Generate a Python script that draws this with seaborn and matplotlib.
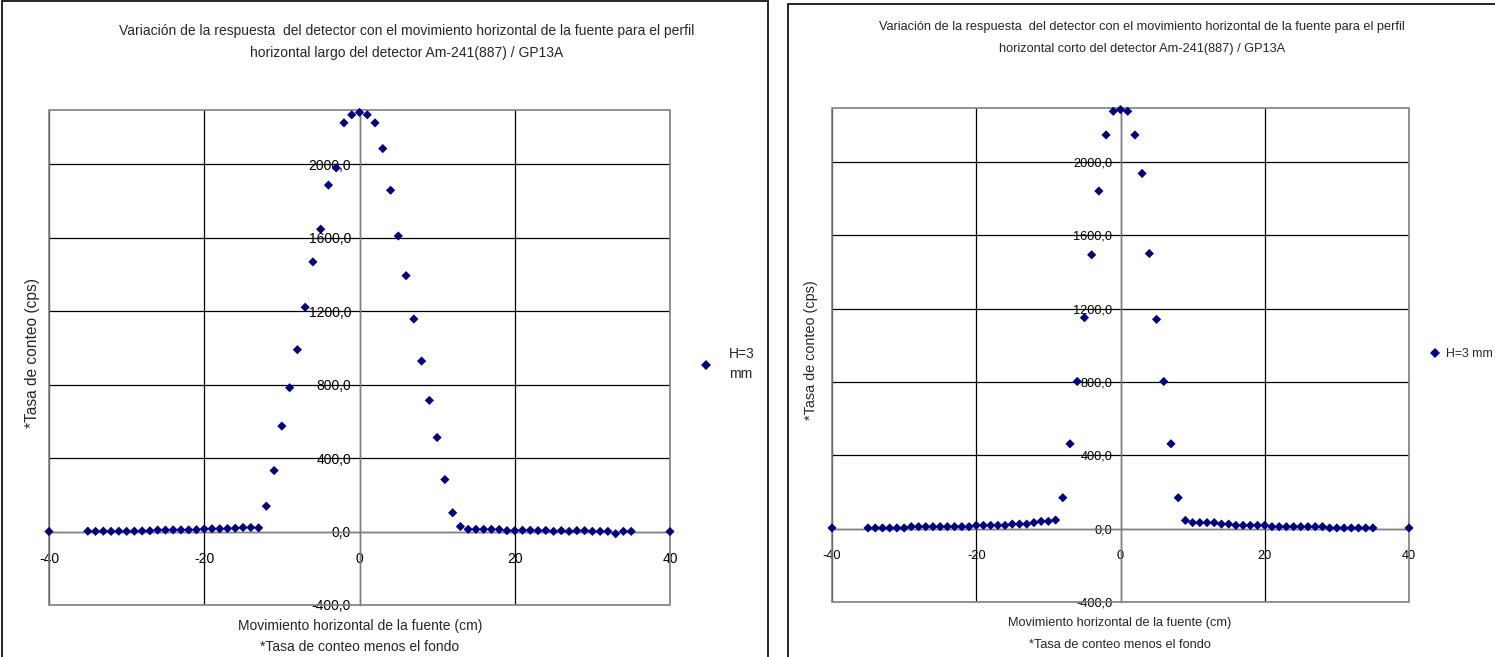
import matplotlib
matplotlib.use("Agg")
import matplotlib.pyplot as plt
import seaborn as sns
import pandas as pd
from matplotlib.patches import Rectangle

# ---------------- data ----------------
x_left = [-40, -35, -34, -33, -32, -31, -30, -29, -28, -27, -26, -25, -24, -23, -22, -21,
          -20, -19, -18, -17, -16, -15, -14, -13, -12, -11, -10, -9, -8, -7, -6, -5, -4,
          -3, -2, -1, 0, 1, 2, 3, 4, 5, 6, 7, 8, 9, 10, 11, 12, 13, 14, 15, 16, 17, 18,
          19, 20, 21, 22, 23, 24, 25, 26, 27, 28, 29, 30, 31, 32, 33, 34, 35, 40]
y_left = [0, 2, 1, 2, 1, 2, 1, 2, 3, 4, 8, 8, 9, 9, 9, 10,
          14, 15, 15, 16, 18, 22, 22, 20, 138, 332, 574, 783, 990, 1221, 1468, 1646, 1886,
          1980, 2225, 2269, 2282, 2269, 2225, 2085, 1858, 1609, 1393, 1157, 928, 714, 512, 283, 102, 27, 12, 12, 12, 12, 11,
          5, 5, 7, 7, 5, 6, 1, 5, 1, 5, 5, 1, 1, 1, -12, 1, 1, 0]

x_right = [-40, -35, -34, -33, -32, -31, -30, -29, -28, -27, -26, -25, -24, -23, -22, -21,
           -20, -19, -18, -17, -16, -15, -14, -13, -12, -11, -10, -9, -8, -7, -6, -5, -4,
           -3, -2, -1, 0, 1, 2, 3, 4, 5, 6, 7, 8, 9, 10, 11, 12, 13, 14, 15, 16, 17, 18,
           19, 20, 21, 22, 23, 24, 25, 26, 27, 28, 29, 30, 31, 32, 33, 34, 35, 40]
y_right = [4, 4, 4, 4, 4, 4, 4, 11, 11, 11, 11, 11, 11, 11, 11, 11,
           18, 18, 18, 18, 18, 25, 25, 25, 33, 40, 40, 47, 169, 463, 803, 1151, 1494,
           1842, 2148, 2277, 2286, 2277, 2148, 1938, 1501, 1142, 803, 463, 169, 45, 33, 33, 33, 33, 25, 25, 18, 18, 18,
           18, 18, 11, 11, 11, 11, 11, 11, 11, 11, 4, 4, 4, 4, 4, 4, 4, 4]

series_label = "H=3 mm"
x_ticks = [-40, -20, 0, 20, 40]
x_tick_labels = ["-40", "-20", "0", "20", "40"]
y_ticks = [-400, 0, 400, 800, 1200, 1600, 2000]
y_tick_labels = ["-400,0", "0,0", "400,0", "800,0", "1200,0", "1600,0", "2000,0"]

title_left = ["Variación de la respuesta  del detector con el movimiento horizontal de la fuente para el perfil",
              "horizontal largo del detector Am-241(887) / GP13A"]
title_right = ["Variación de la respuesta  del detector con el movimiento horizontal de la fuente para el perfil",
               "horizontal corto del detector Am-241(887) / GP13A"]
xlabel_lines = ["Movimiento horizontal de la fuente (cm)", "*Tasa de conteo menos el fondo"]
ylabel = "*Tasa de conteo (cps)"

# ---------------- figure ----------------
sns.set_style("white")
plt.rcParams["font.family"] = ["Liberation Sans", "DejaVu Sans"]

W, H = 1495, 657
fig = plt.figure(figsize=(W / 100, H / 100), dpi=100)

def fx(px):
    return px / W

def fy(py):
    return 1 - py / H

# panel borders
fig.patches.append(Rectangle((fx(2), fy(660)), fx(768) - fx(2), fy(1) - fy(660),
                             transform=fig.transFigure, fill=False, edgecolor="black", lw=1.2))
fig.patches.append(Rectangle((fx(788), fy(660)), fx(1510) - fx(788), fy(4) - fy(660),
                             transform=fig.transFigure, fill=False, edgecolor="black", lw=1.2))

MARK = "#000080"
GRAY = "#808080"


def make_panel(box, xs, ys, titles, tcx, ty, fs, ylab_x, xlab_cx, xlab_y,
               leg_anchor, leg_label, leg_fs, leg_pad, leg_ls):
    x0, y0, x1, y1 = box
    ax = fig.add_axes([fx(x0), fy(y1), fx(x1) - fx(x0), fy(y0) - fy(y1)])
    df = pd.DataFrame({"x": xs, "y": ys, "serie": leg_label})
    sns.scatterplot(data=df, x="x", y="y", hue="serie", palette=[MARK], marker="D",
                    s=22, linewidth=0, ax=ax, zorder=5, clip_on=False)
    ax.set_xlim(-40, 40)
    ax.set_ylim(-400, 2295)
    ax.set_xticks(x_ticks, x_tick_labels)
    ax.set_yticks(y_ticks, y_tick_labels)
    ax.grid(True, color="black", lw=0.9, zorder=0)
    ax.set_axisbelow(True)
    for s in ["top", "right"]:
        ax.spines[s].set_visible(False)
    ax.spines["left"].set_position(("data", 0))
    ax.spines["bottom"].set_position(("data", 0))
    for s in ["left", "bottom"]:
        ax.spines[s].set_color(GRAY)
        ax.spines[s].set_linewidth(1.0)
        ax.spines[s].set_zorder(2)
    ax.add_patch(Rectangle((0, 0), 1, 1, transform=ax.transAxes, fill=False,
                           edgecolor=GRAY, lw=1.2, zorder=3, clip_on=False))
    ax.tick_params(axis="both", labelsize=fs, colors="black", length=4, width=0.8,
                   direction="out", pad=2)
    ax.tick_params(axis="x", pad=11)
    ax.set_xlabel("")
    ax.set_ylabel("")
    leg = ax.legend(loc="center left", bbox_to_anchor=leg_anchor, bbox_transform=fig.transFigure,
                    frameon=False, fontsize=leg_fs, handletextpad=leg_pad, markerscale=1.0,
                    handlelength=0.8, borderaxespad=0, borderpad=0)
    for t in leg.get_texts():
        t.set_multialignment("left")
        t.set_linespacing(leg_ls)
    for t, yy in zip(titles, ty):
        fig.text(fx(tcx), fy(yy), t, ha="center", va="center", fontsize=fs)
    fig.text(fx(ylab_x), fy((y0 + y1) / 2 - 5), ylabel, rotation=90, ha="center", va="center",
             fontsize=fs + 1.2)
    for t, yy in zip(xlabel_lines, xlab_y):
        fig.text(fx(xlab_cx), fy(yy), t, ha="center", va="center", fontsize=fs)
    return ax


make_panel((49, 110, 670, 605), x_left, y_left, title_left, 407, (31, 53), 10.0,
           33, 360, (626, 647), (fx(700), fy(364)), series_label.replace(" ", "\n"),
           10.0, 1.3, 1.6)
make_panel((832, 108, 1409, 602), x_right, y_right, title_right, 1142, (27, 49), 9.2,
           811, 1120, (623, 645), (fx(1430), fy(354)), series_label,
           8.8, 0.5, 1.2)

fig.savefig("out.png", dpi=100)
